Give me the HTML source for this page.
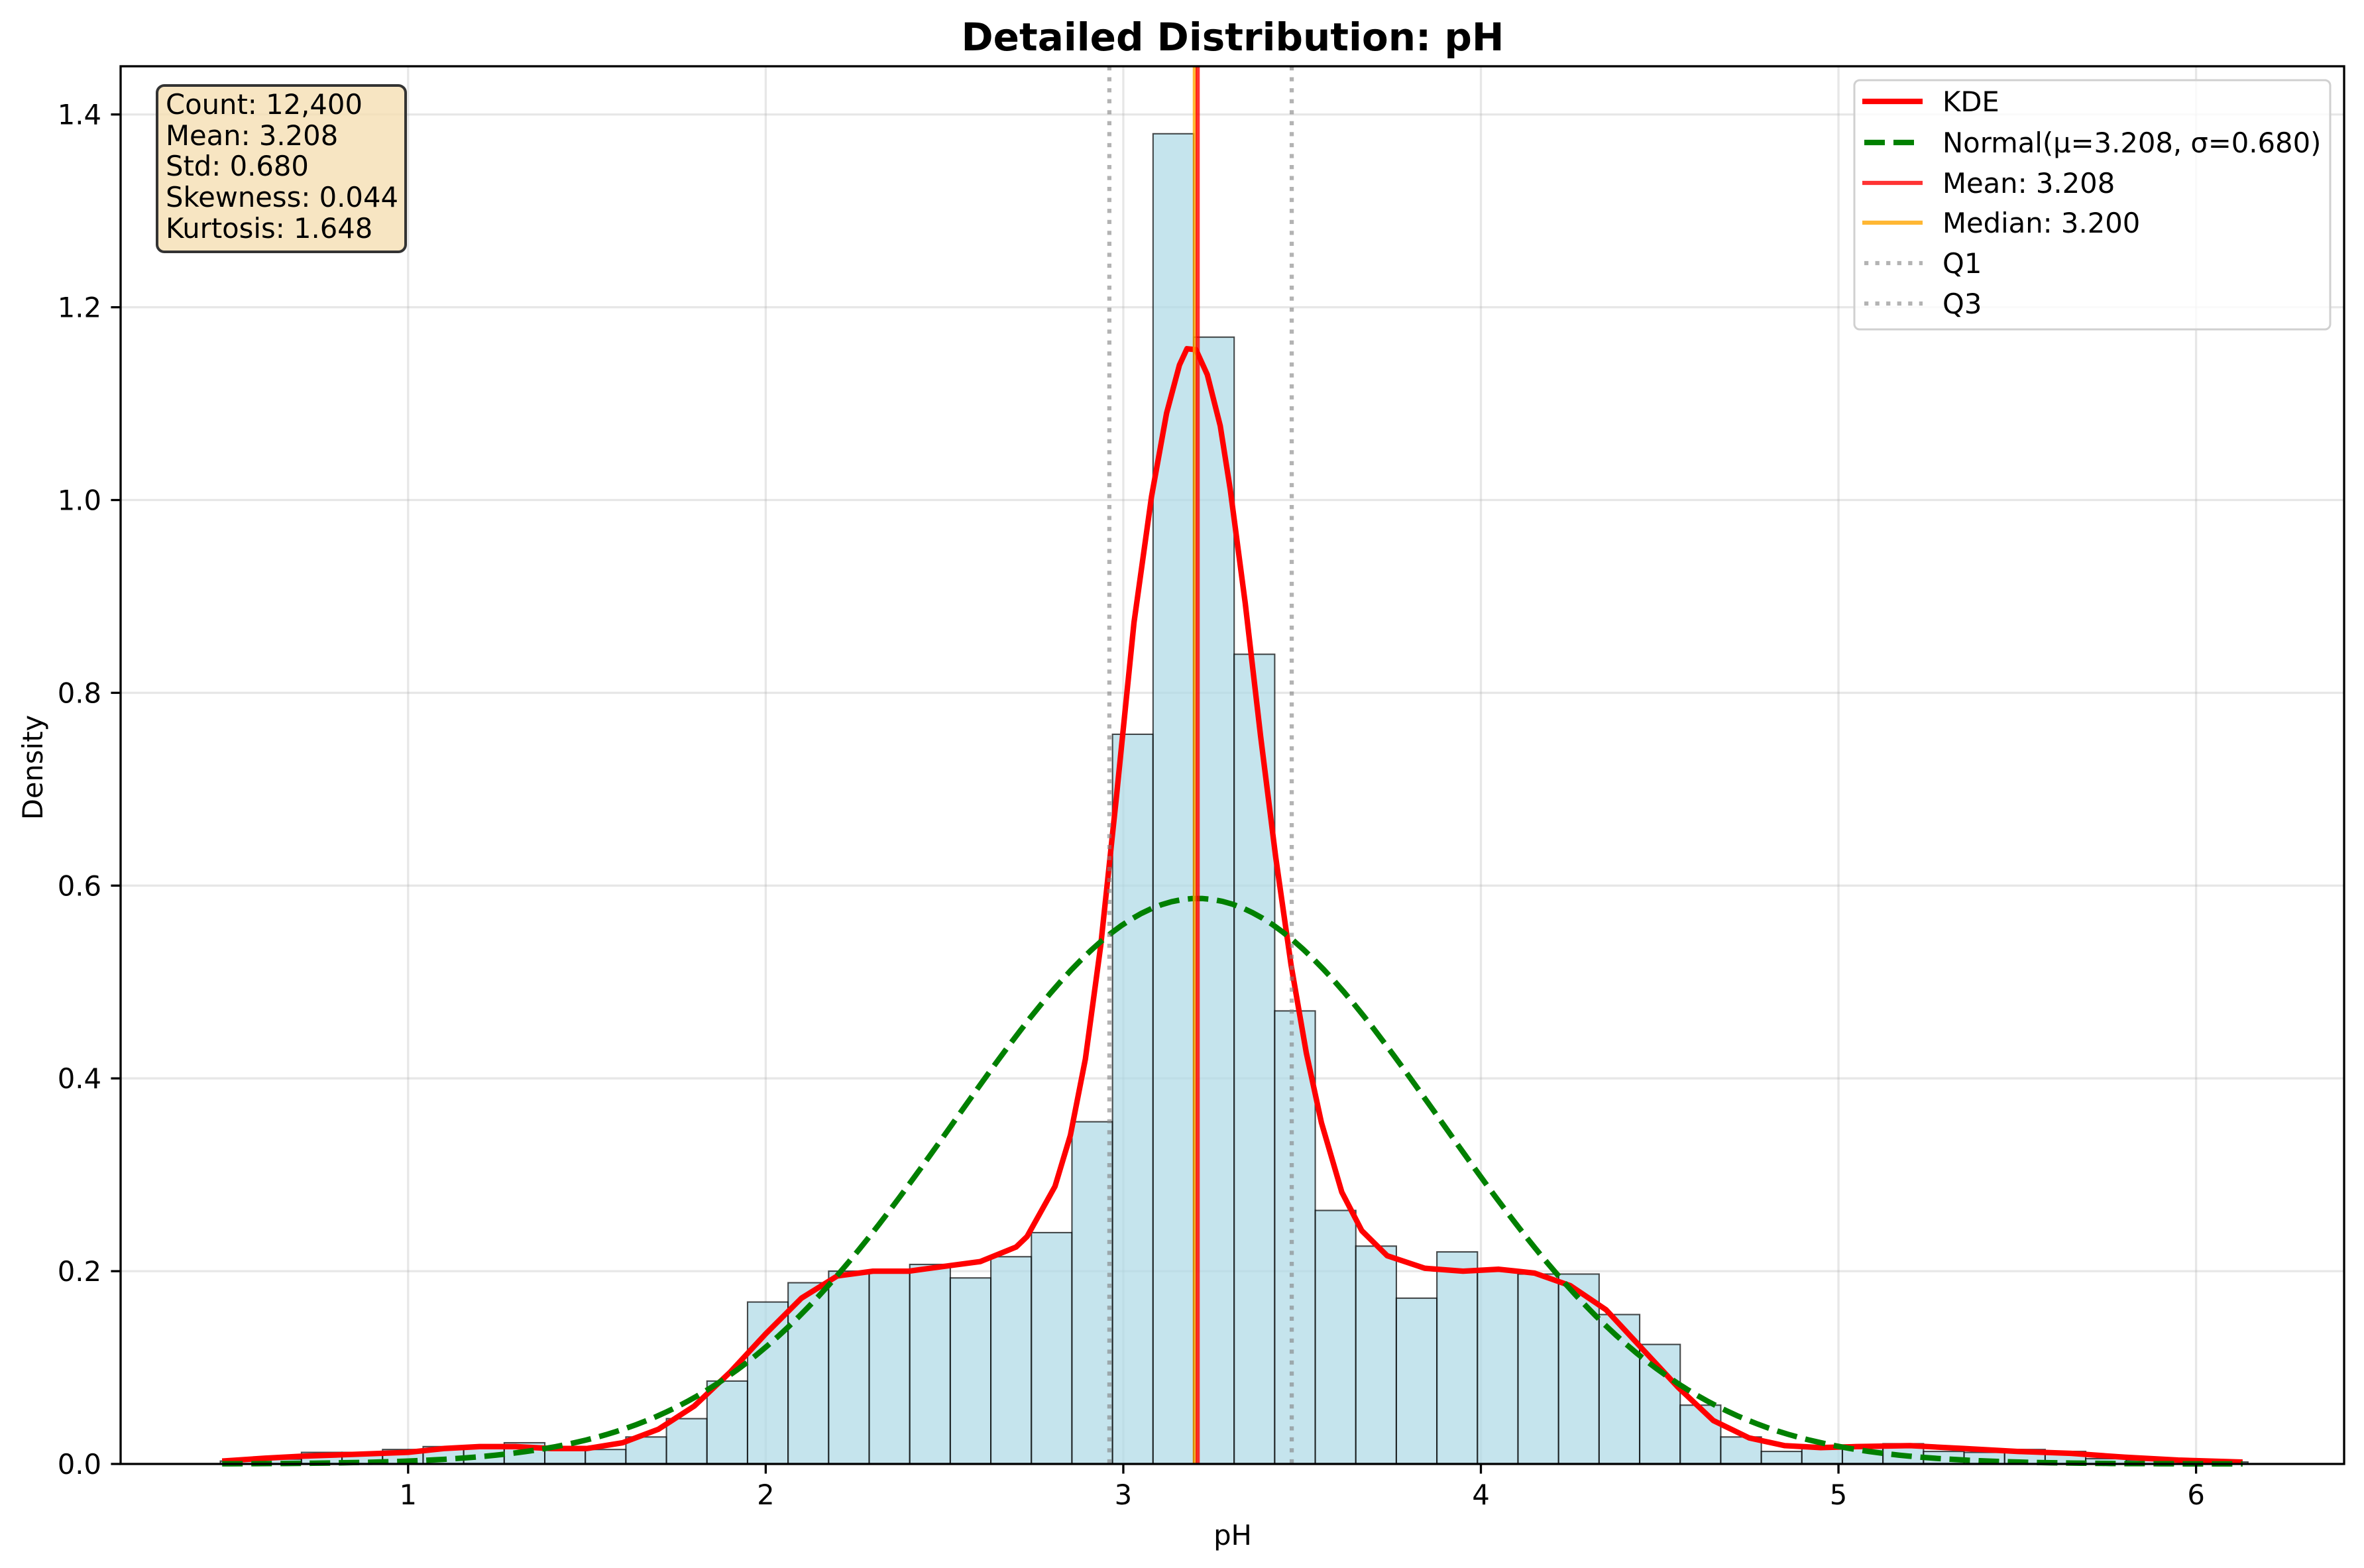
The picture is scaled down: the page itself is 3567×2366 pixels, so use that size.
<!DOCTYPE html>
<html><head><meta charset="utf-8"><title>Detailed Distribution: pH</title>
<style>html,body{margin:0;padding:0;background:#fff}svg{display:block}text{font-family:"DejaVu Sans","Liberation Sans",sans-serif}</style>
</head><body>
<svg id="chart" width="3567" height="2366" viewBox="0 0 3567 2366" xmlns="http://www.w3.org/2000/svg">
<rect width="3567" height="2366" fill="#fff"/>
<g id="grid"></g>
<g id="bars"></g>
<g id="lines"></g>
<g id="axes"></g>
<text x="1860" y="76" font-size="58" font-weight="bold" text-anchor="middle">Detailed Distribution: pH</text>
<text x="1860" y="2331" font-size="41.7" text-anchor="middle">pH</text>
<text x="0" y="0" font-size="41.7" text-anchor="middle" transform="translate(64,1158) rotate(-90)">Density</text>
<g>
<rect x="237" y="129" width="375" height="251" rx="11" fill="#f5deb3" fill-opacity="0.8" stroke="#333" stroke-width="4"/>
<text x="250" y="172" font-size="41.7">Count: 12,400</text>
<text x="250" y="219" font-size="41.7">Mean: 3.208</text>
<text x="250" y="265" font-size="41.7">Std: 0.680</text>
<text x="250" y="312" font-size="41.7">Skewness: 0.044</text>
<text x="250" y="359" font-size="41.7">Kurtosis: 1.648</text>
</g>
<g id="legend">
<rect x="2798" y="121" width="718" height="376" rx="8" fill="#fff" fill-opacity="0.8" stroke="#d0d0d0" stroke-width="3"/>
<g><line x1="2810" y1="153" x2="2901" y2="153" stroke="#ff0000" stroke-width="8.3"/><text x="2931" y="168" font-size="41.7">KDE</text></g>
<g><line x1="2813" y1="215" x2="2901" y2="215" stroke="#008000" stroke-width="8.3" stroke-dasharray="31,13"/><text x="2931" y="230" font-size="41.7">Normal(μ=3.208, σ=0.680)</text></g>
<g><line x1="2810" y1="276" x2="2901" y2="276" stroke="#ff0000" stroke-opacity="0.8" stroke-width="6.25"/><text x="2931" y="291" font-size="41.7">Mean: 3.208</text></g>
<g><line x1="2810" y1="336" x2="2901" y2="336" stroke="#ffa500" stroke-opacity="0.8" stroke-width="6.25"/><text x="2931" y="351" font-size="41.7">Median: 3.200</text></g>
<g><line x1="2813" y1="397" x2="2901" y2="397" stroke="#808080" stroke-opacity="0.6" stroke-width="6.25" stroke-dasharray="6.25,10.3"/><text x="2931" y="412" font-size="41.7">Q1</text></g>
<g><line x1="2813" y1="458" x2="2901" y2="458" stroke="#808080" stroke-opacity="0.6" stroke-width="6.25" stroke-dasharray="6.25,10.3"/><text x="2931" y="473" font-size="41.7">Q3</text></g>
</g>
</svg>
<script>
const binStart = 0.475;
const binWidth = 0.1134;
const binHeights = [0.003,0.005,0.012,0.012,0.015,0.018,0.018,0.022,0.015,0.015,0.028,0.047,0.086,0.168,0.188,0.200,0.198,0.207,0.193,0.215,0.240,0.355,0.757,1.380,1.169,0.840,0.470,0.263,0.226,0.172,0.220,0.200,0.197,0.197,0.155,0.124,0.061,0.028,0.013,0.017,0.017,0.021,0.013,0.012,0.015,0.013,0.0055,0.004,0.003,0.002];
const kdeX = [0.48,0.6,0.7,0.85,1.0,1.1,1.2,1.3,1.4,1.5,1.6,1.7,1.8,1.9,2.0,2.1,2.2,2.3,2.4,2.5,2.6,2.7,2.731,2.809,2.852,2.894,2.937,2.980,3.030,3.079,3.121,3.157,3.178,3.203,3.235,3.271,3.299,3.341,3.384,3.426,3.469,3.512,3.554,3.611,3.667,3.738,3.843,3.95,4.05,4.15,4.25,4.35,4.45,4.55,4.65,4.75,4.85,4.95,5.05,5.2,5.35,5.5,5.65,5.8,5.95,6.13];
const kdeY = [0.003,0.006,0.008,0.010,0.012,0.016,0.018,0.018,0.016,0.016,0.022,0.036,0.060,0.095,0.135,0.172,0.195,0.200,0.200,0.205,0.210,0.225,0.236,0.288,0.341,0.420,0.538,0.689,0.873,1.004,1.090,1.140,1.157,1.156,1.130,1.077,1.011,0.893,0.755,0.630,0.518,0.426,0.354,0.282,0.242,0.216,0.203,0.200,0.202,0.198,0.185,0.160,0.120,0.080,0.045,0.027,0.019,0.017,0.018,0.019,0.016,0.013,0.011,0.007,0.004,0.002];
const normMu = 3.208;
const normSigma = 0.680;
const normRange = [0.48, 6.13];
const meanVal = 3.208;
const medianVal = 3.200;
const q1Val = 2.961;
const q3Val = 3.471;
const xTicks = [1,2,3,4,5,6];
const yTicks = [0.0,0.2,0.4,0.6,0.8,1.0,1.2,1.4];
const yTickLabels = ["0.0","0.2","0.4","0.6","0.8","1.0","1.2","1.4"];

const L=182,R=3537,T=100,B=2209;
const xMin=0.196,xMax=6.414,yMin=0,yMax=1.45;
const sx=v=>L+(v-xMin)/(xMax-xMin)*(R-L);
const sy=v=>B-(v-yMin)/(yMax-yMin)*(B-T);
const NS="http://www.w3.org/2000/svg";
function mk(tag,attrs,parent){const e=document.createElementNS(NS,tag);for(const k in attrs)e.setAttribute(k,attrs[k]);parent.appendChild(e);return e;}
const grid=document.getElementById('grid'),bars=document.getElementById('bars'),lines=document.getElementById('lines'),axes=document.getElementById('axes');
xTicks.forEach(t=>{const g=mk('line',{x1:sx(t),x2:sx(t),y1:T,y2:B,stroke:'#b0b0b0','stroke-opacity':0.3,'stroke-width':3.3},grid);

});
yTicks.forEach(t=>{const g=mk('line',{x1:L,x2:R,y1:sy(t),y2:sy(t),stroke:'#b0b0b0','stroke-opacity':0.3,'stroke-width':3.3},grid);

});
binHeights.forEach((h,i)=>{const x0=sx(binStart+i*binWidth),x1=sx(binStart+(i+1)*binWidth);
const r=mk('rect',{x:x0,y:sy(h),width:x1-x0,height:sy(0)-sy(h),fill:'#add8e6','fill-opacity':0.7,stroke:'#000','stroke-opacity':0.7,'stroke-width':2.1},bars);

});
let d='';kdeX.forEach((x,i)=>{d+=(i?'L':'M')+sx(x).toFixed(1)+','+sy(kdeY[i]).toFixed(1);});
const kp=mk('path',{d:d,fill:'none',stroke:'#ff0000','stroke-width':8.3,'stroke-linejoin':'round'},lines);


let nd='';const N=200;for(let i=0;i<=N;i++){const x=normRange[0]+(normRange[1]-normRange[0])*i/N;const y=Math.exp(-0.5*((x-normMu)/normSigma)**2)/(normSigma*Math.sqrt(2*Math.PI));nd+=(i?'L':'M')+sx(x).toFixed(1)+','+sy(y).toFixed(1);}
const np=mk('path',{d:nd,fill:'none',stroke:'#008000','stroke-width':8.3,'stroke-dasharray':'31,13'},lines);


const q1=mk('line',{x1:sx(q1Val),x2:sx(q1Val),y1:T,y2:B,stroke:'#808080','stroke-opacity':0.6,'stroke-width':6.25,'stroke-dasharray':'6.25,10.3'},lines);


const q3=mk('line',{x1:sx(q3Val),x2:sx(q3Val),y1:T,y2:B,stroke:'#808080','stroke-opacity':0.6,'stroke-width':6.25,'stroke-dasharray':'6.25,10.3'},lines);


const md=mk('line',{x1:sx(medianVal),x2:sx(medianVal),y1:T,y2:B,stroke:'#ffa500','stroke-opacity':0.8,'stroke-width':6.25},lines);


const mn=mk('line',{x1:sx(meanVal),x2:sx(meanVal),y1:T,y2:B,stroke:'#ff0000','stroke-opacity':0.8,'stroke-width':6.25},lines);


const frame=mk('rect',{x:L,y:T,width:R-L,height:B-T,fill:'none',stroke:'#000','stroke-width':3.3},axes);


xTicks.forEach(t=>{const tk=mk('line',{x1:sx(t),x2:sx(t),y1:B,y2:B+14.6,stroke:'#000','stroke-width':3.3},axes);


const tl=mk('text',{x:sx(t),y:B+61,'font-size':41.7,'text-anchor':'middle'},axes);tl.textContent=String(t);

});
yTicks.forEach((t,i)=>{const tk=mk('line',{x1:L-14.6,x2:L,y1:sy(t),y2:sy(t),stroke:'#000','stroke-width':3.3},axes);


const tl=mk('text',{x:L-29,y:sy(t)+15,'font-size':41.7,'text-anchor':'end'},axes);tl.textContent=yTickLabels[i];

});
</script>
</body></html>
